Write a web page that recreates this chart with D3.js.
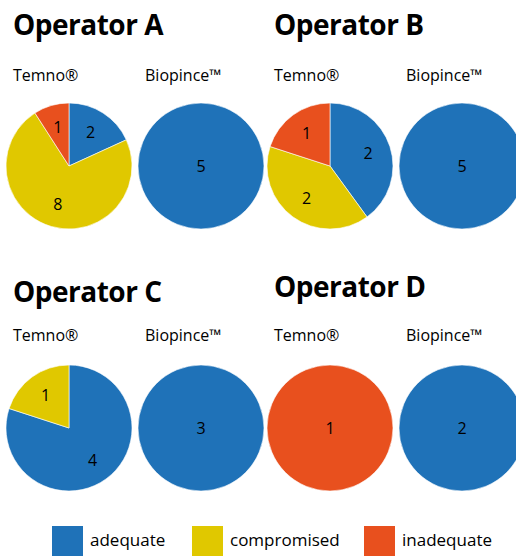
<!DOCTYPE html>
<html>
<head>
<meta charset="utf-8">
<script src="https://cdn.jsdelivr.net/npm/d3@7"></script>
<style>
  body { margin: 0; background: #fff; }
  svg { display: block; font-family: "Open Sans", sans-serif; }
</style>
</head>
<body>
<script>
// categories and colours
var categories = ["adequate", "compromised", "inadequate"];
var colors = ["#1f72b8", "#e0c800", "#e8501e"];

var operators = ["Operator A", "Operator B", "Operator C", "Operator D"];
var devices = ["Temno®", "Biopince™"];

// counts per operator: [adequate, compromised, inadequate]
var temnoValues = [[2, 8, 1], [2, 2, 1], [4, 1, 0], [0, 0, 1]];
var biopinceValues = [[5, 0, 0], [5, 0, 0], [3, 0, 0], [2, 0, 0]];

var width = 516, height = 556;

var svg = d3.select("body")
  .append("svg")
  .attr("width", width)
  .attr("height", height);

var color = d3.scaleOrdinal().domain(categories).range(colors);

var radius = 63;
var pie = d3.pie().sort(null).value(function (d) { return d.value; });
var arc = d3.arc().innerRadius(0).outerRadius(radius);
var labelArc = d3.arc().innerRadius(40).outerRadius(40);

// panel layout
var panels = [
  { x: 0, titleY: 35, labelY: 81, pieY: 166 },
  { x: 261, titleY: 35, labelY: 81, pieY: 166 },
  { x: 0, titleY: 302, labelY: 341, pieY: 428 },
  { x: 261, titleY: 297, labelY: 341, pieY: 428 }
];
var labelX = [13, 145];
var pieX = [69, 201];

operators.forEach(function (name, i) {
  var p = panels[i];
  var g = svg.append("g").attr("transform", "translate(" + p.x + ",0)");

  g.append("text")
    .attr("x", 13)
    .attr("y", p.titleY)
    .style("font-size", "28px")
    .style("font-weight", "bold")
    .style("letter-spacing", "-0.5px")
    .text(name);

  [temnoValues[i], biopinceValues[i]].forEach(function (vals, j) {
    g.append("text")
      .attr("x", labelX[j])
      .attr("y", p.labelY)
      .style("font-size", "16px")
      .text(devices[j]);

    var data = vals.map(function (v, k) { return { cat: categories[k], value: v }; });
    var nonZero = data.filter(function (d) { return d.value > 0; }).length;

    var pg = g.append("g")
      .attr("transform", "translate(" + pieX[j] + "," + p.pieY + ")");

    var slices = pie(data).filter(function (d) { return d.value > 0; });

    pg.selectAll("path")
      .data(slices)
      .enter().append("path")
      .attr("d", arc)
      .style("fill", function (d) { return color(d.data.cat); })
      .style("stroke", "white")
      .style("stroke-width", 0.6);

    pg.selectAll("text")
      .data(slices)
      .enter().append("text")
      .attr("transform", function (d) {
        if (nonZero === 1) return "translate(0,0)";
        return "translate(" + labelArc.centroid(d) + ")";
      })
      .attr("text-anchor", "middle")
      .attr("dy", "0.35em")
      .style("font-size", "16px")
      .text(function (d) { return d.value; });
  });
});

// legend
var legendX = [52, 192, 364];
var legend = svg.append("g").attr("class", "legend");
categories.forEach(function (c, i) {
  legend.append("rect")
    .attr("x", legendX[i])
    .attr("y", 526)
    .attr("width", 31)
    .attr("height", 30)
    .style("fill", color(c));
  legend.append("text")
    .attr("x", legendX[i] + 38)
    .attr("y", 546)
    .style("font-size", "17px")
    .text(c);
});
</script>
</body>
</html>
